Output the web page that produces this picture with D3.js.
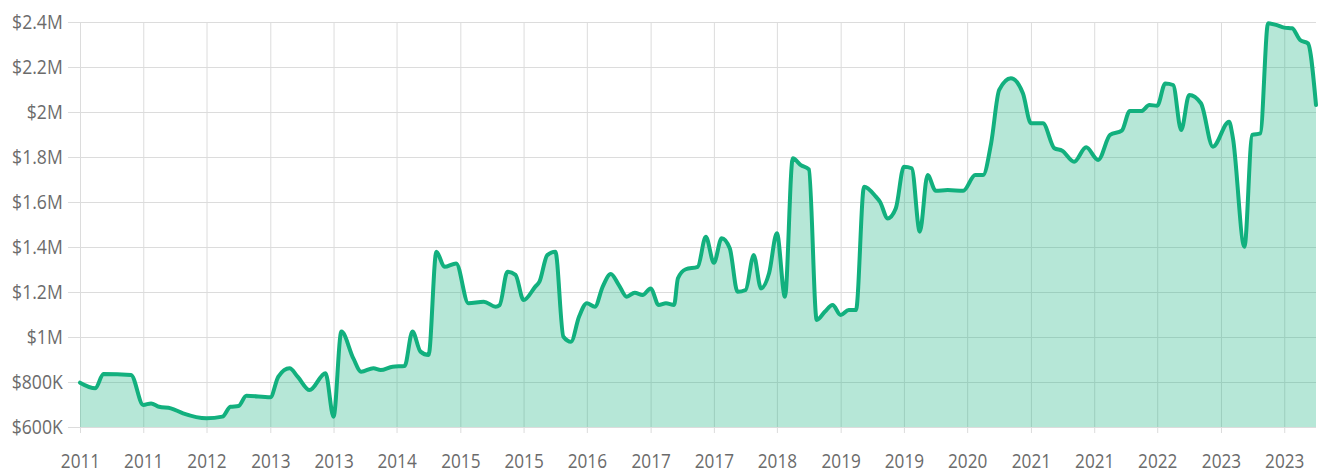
<!DOCTYPE html>
<html>
<head>
<meta charset="utf-8">
<script src="https://cdn.jsdelivr.net/npm/d3@7/dist/d3.min.js"></script>
<style>
  html, body { margin: 0; padding: 0; background: #fff; }
  svg { display: block; }
  text { font-family: "Open Sans", "Noto Sans", sans-serif; fill: #6b6b6b; }
</style>
</head>
<body>
<svg id="chart" width="1321" height="475"></svg>
<script>
// ---- data ----
const dates = [
  "2011-01-01","2011-03-01","2011-04-01","2011-07-16","2011-09-01","2011-10-01","2011-11-01","2011-12-16",
  "2012-02-01","2012-05-01","2012-07-01","2012-08-01","2012-09-01","2012-10-01",
  "2013-01-01","2013-02-01","2013-03-16","2013-04-16","2013-06-01","2013-08-01","2013-09-01","2013-10-01","2013-11-16","2013-12-16",
  "2014-02-01","2014-03-01","2014-04-16","2014-06-01","2014-07-01","2014-08-01","2014-09-01","2014-10-01","2014-11-01","2014-12-16",
  "2015-02-01","2015-04-01","2015-05-16","2015-06-01","2015-07-01","2015-08-01","2015-09-01","2015-10-16","2015-11-01","2015-12-01",
  "2016-01-01","2016-02-01","2016-03-01","2016-04-01","2016-05-01","2016-06-01","2016-07-01","2016-08-01","2016-09-01","2016-10-01","2016-11-01","2016-12-01",
  "2017-01-01","2017-02-01","2017-03-01","2017-04-01","2017-04-16","2017-05-16","2017-07-01","2017-08-01","2017-09-01","2017-10-01","2017-11-01","2017-12-01",
  "2018-01-01","2018-02-01","2018-03-01","2018-04-01","2018-05-01","2018-06-01","2018-07-01","2018-08-01","2018-09-01","2018-10-01","2018-11-01","2018-12-01",
  "2019-01-01","2019-02-01","2019-03-01","2019-04-01","2019-05-16","2019-06-01","2019-07-01","2019-08-01","2019-09-01","2019-10-01","2019-11-01","2019-12-01",
  "2020-01-01","2020-02-16","2020-04-16","2020-06-01","2020-07-01","2020-08-01","2020-09-01","2020-10-16","2020-12-01",
  "2021-01-01","2021-02-16","2021-04-01","2021-05-01","2021-06-16","2021-08-01","2021-09-16","2021-11-01","2021-12-16",
  "2022-01-16","2022-03-01","2022-04-01","2022-05-01","2022-06-01","2022-07-01","2022-08-01","2022-09-01","2022-10-16","2022-12-01",
  "2023-02-01","2023-02-16","2023-04-01","2023-05-01","2023-06-01","2023-07-01","2023-08-01","2023-09-01","2023-10-01","2023-11-01","2023-12-01",
  "2024-01-01"
];
const values = [
  797000,772000,836000,831000,698000,705000,690000,683000,
  661000,639000,646000,690000,693000,739000,
  732000,824000,861000,824000,764000,839000,646000,1024000,905000,846000,
  861000,853000,868000,871000,1024000,935000,920000,1379000,1312000,1327000,
  1150000,1157000,1135000,1142000,1290000,1276000,1164000,1224000,1246000,1364000,
  1379000,1001000,979000,1090000,1150000,1135000,1224000,1280000,1231000,1179000,1197000,1187000,
  1216000,1142000,1150000,1142000,1261000,1301000,1312000,1446000,1330000,1439000,1394000,1201000,
  1209000,1364000,1216000,1283000,1461000,1179000,1794000,1764000,1745000,1076000,1112000,1142000,
  1098000,1120000,1120000,1668000,1624000,1601000,1527000,1572000,1757000,1750000,1468000,1720000,
  1650000,1653000,1650000,1720000,1720000,1861000,2098000,2150000,2083000,
  1950000,1950000,1839000,1828000,1779000,1843000,1787000,1898000,1917000,
  2005000,2004000,2031000,2028000,2127000,2120000,1920000,2076000,2039000,1846000,
  1957000,1883000,1401000,1898000,1905000,2394000,2387000,2375000,2372000,2320000,2305000,
  2031000
];
const xTickLabels = ["2011","2011","2012","2013","2013","2014","2015","2015","2016","2017",
                     "2017","2018","2019","2019","2020","2021","2021","2022","2023","2023"];
const yTicks = [600000, 800000, 1000000, 1200000, 1400000, 1600000, 1800000, 2000000, 2200000, 2400000];
const yTickLabels = ["$600K","$800K","$1M","$1.2M","$1.4M","$1.6M","$1.8M","$2M","$2.2M","$2.4M"];
const domainStart = "2011-01-01";
const domainEnd = "2024-01-01";
const tickStepMonths = 8;

// ---- layout ----
(function () {
const parse = d3.timeParse("%Y-%m-%d");
const data = dates.map((d, i) => ({ date: parse(d), value: values[i] }));
const mLeft = 80, mRight = 1316, mTop = 22, mBottom = 427;

const x = d3.scaleTime().domain([parse(domainStart), parse(domainEnd)]).range([mLeft, mRight]);
const y = d3.scaleLinear().domain([600000, 2400000]).range([mBottom, mTop]);

const xTickDates = xTickLabels.map((_, i) => d3.timeMonth.offset(parse(domainStart), tickStepMonths * i));

const svg = d3.select("#chart");

// grid (vertical)
const xAxis = d3.axisBottom(x)
  .tickValues(xTickDates)
  .tickSize(-(mBottom - mTop) - 6)
  .tickPadding(21)
  .tickFormat((d, i) => xTickLabels[i]);
const gx = svg.append("g").attr("transform", `translate(0,${mBottom + 6})`).call(xAxis);
gx.select(".domain").remove();
gx.selectAll("line").attr("stroke", "#dcdcdc").attr("stroke-width", 1);
gx.selectAll("text").attr("font-size", 20).attr("fill", "#6b6b6b")
  .attr("transform", "scale(0.86,1)");

// grid (horizontal)
const yAxis = d3.axisLeft(y)
  .tickValues(yTicks)
  .tickSize(-(mRight - mLeft) - 12)
  .tickPadding(6)
  .tickFormat((d, i) => yTickLabels[i]);
const gy = svg.append("g").attr("transform", `translate(${mLeft - 12},0)`).call(yAxis);
gy.select(".domain").remove();
gy.selectAll("line").attr("stroke", "#dcdcdc").attr("stroke-width", 1);
gy.selectAll("text").attr("font-size", 20).attr("fill", "#6b6b6b")
  .attr("transform", "scale(0.88,1)");

const color = "#12b07e";

// area
const area = d3.area()
  .x(d => x(d.date))
  .y0(mBottom)
  .y1(d => y(d.value))
  .curve(d3.curveMonotoneX);
svg.append("path").datum(data)
  .attr("d", area)
  .attr("fill", color)
  .attr("fill-opacity", 0.31);

// line
const line = d3.line()
  .x(d => x(d.date))
  .y(d => y(d.value))
  .curve(d3.curveMonotoneX);
svg.append("path").datum(data)
  .attr("d", line)
  .attr("fill", "none")
  .attr("stroke", color)
  .attr("stroke-width", 4)
  .attr("stroke-linejoin", "round")
  .attr("stroke-linecap", "round");
})();
</script>
</body>
</html>
